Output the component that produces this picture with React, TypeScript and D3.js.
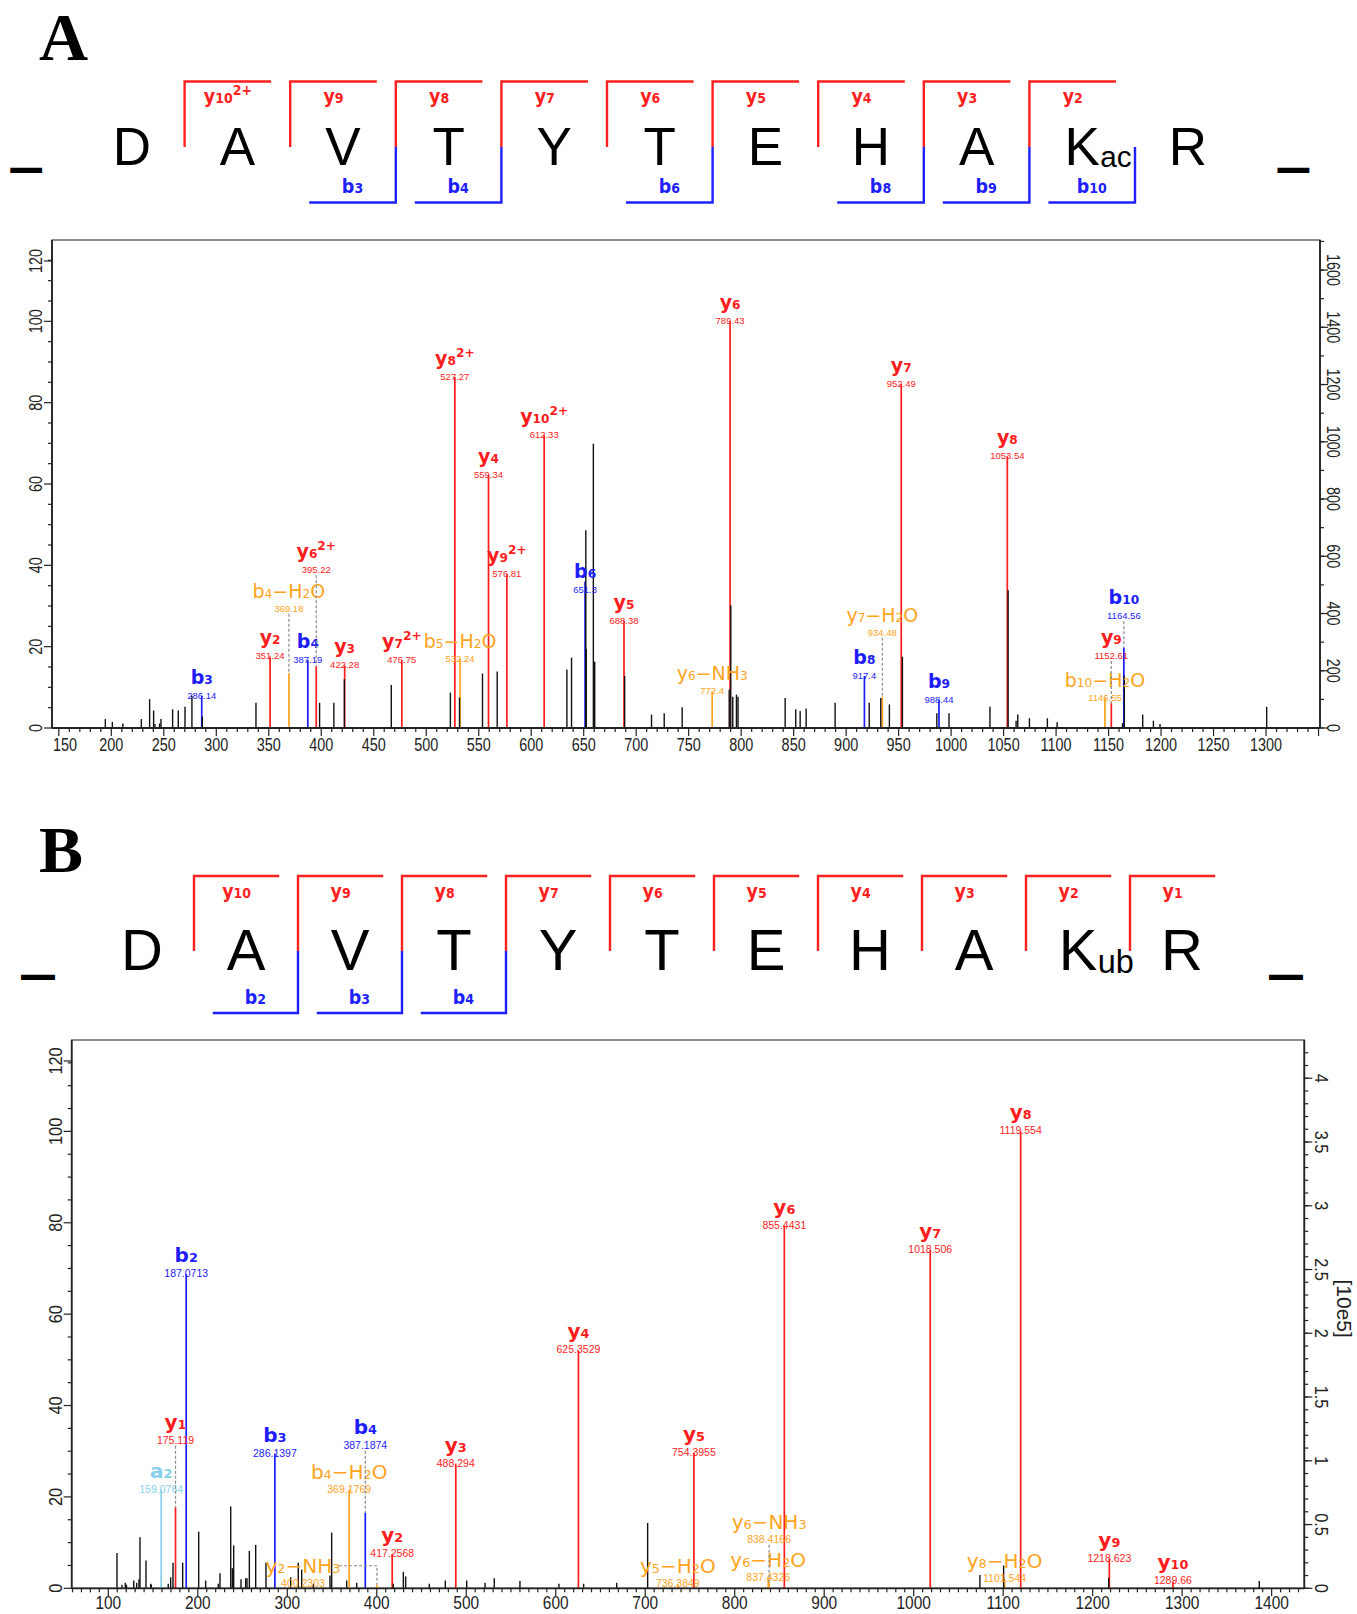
import * as d3 from "d3";
import React from "react";

// ---------------- Panel A : DAVTYTEHAK(ac)R ----------------
const seqA = ["D", "A", "V", "T", "Y", "T", "E", "H", "A", "K", "R"];
const modA = "ac";
const yCutsA = [1, 2, 3, 4, 5, 6, 7, 8, 9];
const yNamesA = ["y{10}^{2+}", "y{9}", "y{8}", "y{7}", "y{6}", "y{5}", "y{4}", "y{3}", "y{2}"];
const bCutsA = [3, 4, 6, 8, 9, 10];
const bNamesA = ["b{3}", "b{4}", "b{6}", "b{8}", "b{9}", "b{10}"];

// annotated fragment peaks (m/z, relative intensity %)
const annMzA = [286.14, 351.24, 369.18, 387.19, 395.22, 422.28, 476.75, 527.27, 532.24, 559.34, 576.81, 612.33, 651.3, 688.38, 772.4, 789.43, 917.4, 934.48, 952.49, 988.44, 1053.54, 1146.55, 1152.61, 1164.56];
const annIntA = [7.9, 17.6, 13.5, 16.7, 15.2, 15.4, 16.7, 86.3, 17.0, 62.2, 37.8, 72.0, 36.0, 26.4, 9.0, 100, 12.8, 7.7, 84.6, 6.9, 66.8, 7.4, 6.1, 19.8];
const annLabA = ["b{3}", "y{2}", "b{4}−H{2}O", "b{4}", "y{6}^{2+}", "y{3}", "y{7}^{2+}", "y{8}^{2+}", "b{5}−H{2}O", "y{4}", "y{9}^{2+}", "y{10}^{2+}", "b{6}", "y{5}", "y{6}−NH{3}", "y{6}", "b{8}", "y{7}−H{2}O", "y{7}", "b{9}", "y{8}", "b{10}−H{2}O", "y{9}", "b{10}"];
const annKindA = ["b", "y", "o", "b", "y", "y", "y", "y", "o", "y", "y", "y", "b", "y", "o", "y", "b", "o", "y", "b", "y", "o", "y", "b"];
const annAtA = [null, null, 29.3, null, 38.8, null, null, null, null, null, null, null, 34, null, null, null, null, 23.4, null, null, null, null, 17.7, 27.5];

// unassigned peaks
const peakMzA = [194.3, 201, 211, 228.6, 236.5, 240.3, 241.5, 246, 247.3, 258.4, 263.8, 270.2, 276.8, 286.7, 337.8, 398.4, 412, 422, 466.7, 523, 531.7, 553.6, 567.6, 634, 638.4, 652, 652.4, 659.2, 660.5, 689, 714.6, 726.7, 743.8, 788.6, 790.1, 792, 795.5, 797, 841.9, 852, 856.2, 861.9, 889.5, 922, 933, 941.2, 953.6, 986.4, 998, 1037, 1054.3, 1061.9, 1063.5, 1074.6, 1091.7, 1101, 1163.3, 1165, 1182.5, 1192.7, 1199, 1300.6];
const peakIntA = [2.2, 1.5, 1.1, 2.2, 7.1, 4.3, 1.0, 1.1, 2.2, 4.6, 4.3, 5.2, 7.9, 2.8, 6.2, 6.2, 6.2, 12, 10.6, 8.7, 7.5, 13.4, 13.9, 14.4, 17.3, 48.6, 19.4, 69.9, 16.3, 12.8, 3.3, 3.6, 5.1, 9.4, 30.2, 7.7, 8.2, 7.7, 7.4, 4.6, 4.2, 4.8, 6.2, 6.2, 7.4, 5.8, 17.5, 3.6, 3.6, 5.2, 33.9, 1.8, 3.3, 2.4, 2.4, 1.4, 1.2, 12.9, 3.3, 1.8, 1.0, 5.2];

const xLabelsA = [150, 200, 250, 300, 350, 400, 450, 500, 550, 600, 650, 700, 750, 800, 850, 900, 950, 1000, 1050, 1100, 1150, 1200, 1250, 1300];
const leftLabels = [0, 20, 40, 60, 80, 100, 120];
const rightLabelsA = [0, 200, 400, 600, 800, 1000, 1200, 1400, 1600];

// ---------------- Panel B : DAVTYTEHAK(ub)R ----------------
const seqB = ["D", "A", "V", "T", "Y", "T", "E", "H", "A", "K", "R"];
const modB = "ub";
const yCutsB = [1, 2, 3, 4, 5, 6, 7, 8, 9, 10];
const yNamesB = ["y{10}", "y{9}", "y{8}", "y{7}", "y{6}", "y{5}", "y{4}", "y{3}", "y{2}", "y{1}"];
const bCutsB = [2, 3, 4];
const bNamesB = ["b{2}", "b{3}", "b{4}"];

const annMzB = [159.0764, 175.119, 187.0713, 286.1397, 369.1769, 387.1874, 400.2303, 417.2568, 488.294, 625.3529, 736.3849, 754.3955, 837.4326, 838.4166, 855.4431, 1018.506, 1101.544, 1119.554, 1218.623, 1289.66];
const annIntB = [21.6, 17.7, 68.8, 29.5, 21.6, 16.5, 0.8, 7.5, 27.3, 52.1, 1.0, 29.7, 2.3, 1.3, 79.4, 74.1, 2.1, 100, 6.5, 1.5];
const annLabB = ["a{2}", "y{1}", "b{2}", "b{3}", "b{4}−H{2}O", "b{4}", "y{2}−NH{3}", "y{2}", "y{3}", "y{4}", "y{5}−H{2}O", "y{5}", "y{6}−H{2}O", "y{6}−NH{3}", "y{6}", "y{7}", "y{8}−H{2}O", "y{8}", "y{9}", "y{10}"];
const annKindB = ["a", "y", "b", "b", "o", "b", "o", "y", "y", "y", "o", "y", "o", "o", "y", "y", "o", "y", "y", "y"];
const annAtB = [null, 32.3, null, null, null, 31.2, 1.0, null, null, null, null, null, null, 10.6, null, null, null, null, null, null];
const annDxB = [0, 0, 0, 0, 0, 0, -74, 0, 0, 0, 0, 0, 0, 0, 0, 0, 0, 0, 0, 0];

const peakMzB = [109.7, 115.3, 119, 120.3, 128.4, 131.7, 134.3, 135.4, 142.1, 147.4, 148, 167, 169.7, 172.3, 183.1, 201, 208.8, 222.9, 224.8, 236.8, 238.6, 240.1, 248.3, 253.5, 255, 257.6, 264.7, 276.2, 303.8, 312.3, 316.1, 329, 347.7, 349.6, 366.4, 377.6, 418.5, 429.7, 432.3, 458.7, 476.6, 500.5, 521, 531.3, 560, 603.6, 631.2, 668.1, 702.7, 1074, 1100.5, 1217.9, 1386.2];
const peakIntB = [7.7, 0.8, 1.2, 0.8, 1.7, 1.2, 2, 11.2, 6.1, 1, 0.8, 1, 2.4, 5.6, 5.6, 12.4, 1.7, 1, 3.3, 17.9, 4.4, 9.4, 2, 2.2, 2.2, 8.2, 9.5, 5.6, 2.4, 5.6, 4.1, 1, 2.8, 12.2, 1.7, 1.2, 1, 3.6, 2.6, 1, 1.7, 1.7, 1.2, 2.2, 1.6, 1, 1, 1.2, 14.3, 2.9, 5, 2.3, 1.6];

const xLabelsB = [100, 200, 300, 400, 500, 600, 700, 800, 900, 1000, 1100, 1200, 1300, 1400];
const rightLabelsB = [0, 0.5, 1, 1.5, 2, 2.5, 3, 3.5, 4];

const COL: Record<string, string> = { y: "#ff1c1c", b: "#1c1cff", o: "#ffa41c", a: "#86cfee" };
const F_AX = "Liberation Sans, Arial, sans-serif";
const F_LAB = "DejaVu Sans, Verdana, sans-serif";

function parse(lab: string) {
  const out: { t: string; k: string }[] = [];
  const re = /\^\{([^}]*)\}|\{([^}]*)\}|([^{^]+)/g;
  let m: RegExpExecArray | null;
  while ((m = re.exec(lab))) {
    if (m[1] !== undefined) out.push({ t: m[1], k: "p" });
    else if (m[2] !== undefined) out.push({ t: m[2], k: "s" });
    else out.push({ t: m[3], k: "n" });
  }
  return out;
}

function Label({ x, y, lab, size, color, weight = "bold", sx = 1, subR = 0.64 }: any) {
  let cur = 0;
  return (
    <text transform={`translate(${x},${y}) scale(${sx},1)`} textAnchor="middle" fill={color}
      fontSize={size} fontWeight={weight} fontFamily={F_LAB}>
      {parse(lab).map((s, i) => {
        const target = s.k === "p" ? -size * 0.42 : 0;
        const dy = target - cur;
        cur = target;
        return <tspan key={i} dy={dy} fontSize={s.k === "n" ? size : size * subR}>{s.t}</tspan>;
      })}
    </text>
  );
}

function Sequence({ seq, mod, x0, step, top, mid, bottom, base, size, dashY, dashSx, yCuts, yNames, bCuts, bNames }: any) {
  const band = d3.scaleBand<number>().domain(d3.range(-1, seq.length + 1))
    .range([x0 - step, x0 + (seq.length + 1) * step]);
  const bw = step * 0.82;
  const cx = (i: number) => (band(i) as number) + step / 2;
  return (
    <g>
      {/* terminal dashes */}
      {[-1, seq.length].map((i) => (
        <text key={"d" + i} transform={`translate(${cx(i)},${dashY + 53 * 0.264}) scale(${dashSx},1)`} textAnchor="middle"
          fontSize={53} fontWeight="bold" fontFamily={F_AX}>—</text>
      ))}
      {seq.map((r: string, i: number) => (
        <text key={i} x={cx(i)} y={base} textAnchor="middle" fontSize={size} fontFamily={F_AX}>{r}</text>
      ))}
      <text x={cx(9) + size * 0.34} y={base + 2.5} fontSize={size * 0.56} fontFamily={F_AX}>{mod}</text>
      {yCuts.map((c: number, i: number) => {
        const bx = band(c) as number;
        return (
          <g key={"y" + i}>
            <path d={`M${bx},${mid}V${top}H${bx + bw}`} fill="none" stroke="#ff2020" strokeWidth={2.4} />
            <Label x={bx + bw / 2} y={top + 21.5} lab={yNames[i]} size={19} color="#ff2020" sx={0.92} subR={0.72} />
          </g>
        );
      })}
      {bCuts.map((c: number, i: number) => {
        const bx = band(c) as number;
        return (
          <g key={"b" + i}>
            <path d={`M${bx},${mid}V${bottom}H${bx - bw}`} fill="none" stroke="#2020ff" strokeWidth={2.4} />
            <Label x={bx - bw / 2} y={bottom - 9.5} lab={bNames[i]} size={19} color="#2020ff" sx={0.92} subR={0.72} />
          </g>
        );
      })}
    </g>
  );
}

function Spectrum(p: any) {
  const { L, R, T, B, sx } = p;
  const x = d3.scaleLinear().domain(p.xDom).range([L, R]);
  const yL = d3.scaleLinear().domain([0, 120]).range([B, T]);
  const yR = d3.scaleLinear().domain([0, p.rightMax]).range([B, T]);
  const xMinor = d3.range(p.xMinorFrom, p.xDom[1], 10);
  const leftMinor = d3.range(0, 120, 5);
  const rightMinor = d3.range(0, p.rightMax, p.rightMinorStep);
  const ly = (v: number) => Math.max(yL(v), T + 21);
  return (
    <g>
      <rect x={L} y={T} width={R - L} height={B - T} fill="#fff" stroke="#444" strokeWidth={1.2} />
      {/* annotated peaks, then unassigned (black) peaks on top */}
      {p.mz.map((m: number, i: number) => (
        <line key={"a" + i} x1={x(m)} x2={x(m)} y1={B} y2={yL(p.it[i])} stroke={COL[p.kind[i]]} strokeWidth={1.7} />
      ))}
      {p.peakMz.map((m: number, i: number) => (
        <line key={"n" + i} x1={x(m)} x2={x(m)} y1={B} y2={yL(p.peakInt[i])} stroke="#111" strokeWidth={1.4} />
      ))}
      {p.mz.map((m: number, i: number) => {
        const px = x(m);
        const top = yL(p.it[i]);
        const at = p.at[i];
        const yy = yL(at ?? p.it[i]);
        const dx = p.dx ? p.dx[i] : 0;
        const lx = px + dx;
        const col = COL[p.kind[i]];
        const orange = p.kind[i] === "o";
        let conn = null;
        if (dx !== 0) conn = `M${lx + 36},${yy - 18}H${px}V${top}`;
        else if (at != null && at > p.it[i] + 1) conn = `M${px},${yy + 5}V${top}`;
        return (
          <g key={"l" + i}>
            {conn && <path d={conn} fill="none" stroke="#8a8a8a" strokeWidth={1.2} strokeDasharray="3,2" />}
            <Label x={lx} y={yy - (orange ? 11 : 12)} lab={p.lab[i]} size={p.ionSize} color={col} weight={orange ? "normal" : "bold"} />
            <text x={lx} y={yy + 3} textAnchor="middle" fontSize={p.mzSize} fill={col} fontFamily={F_AX}>{String(m)}</text>
          </g>
        );
      })}
      {/* x axis */}
      <line x1={L} x2={R} y1={B} y2={B} stroke="#222" strokeWidth={1.8} />
      {xMinor.filter((v: number) => x(v) >= L && x(v) <= R).map((v: number) => (
        <line key={"xm" + v} x1={x(v)} x2={x(v)} y1={B} y2={B + (v % p.xMajor === 0 ? 8 : 4)} stroke="#222" strokeWidth={1.2} />
      ))}
      {p.xLabels.map((v: number) => (
        <text key={"xl" + v} transform={`translate(${Math.max(x(v), L + 13)},${B + p.xLabDy}) scale(${sx},1)`}
          textAnchor="middle" fontSize={p.xLabSize} fontFamily={F_AX} fill="#222">{v}</text>
      ))}
      {/* left axis */}
      <line x1={L} x2={L} y1={T} y2={B} stroke="#222" strokeWidth={1.8} />
      {leftMinor.filter((v: number) => v % 20 !== 0).map((v: number) => (
        <line key={"lm" + v} x1={L - 4} x2={L} y1={yL(v)} y2={yL(v)} stroke="#222" strokeWidth={1.2} />
      ))}
      {leftLabels.map((v: number) => (
        <g key={"ll" + v}>
          <line x1={L - 8} x2={L} y1={ly(v)} y2={ly(v)} stroke="#222" strokeWidth={1.2} />
          <text transform={`translate(${L - 16},${ly(v)}) rotate(-90) scale(${sx},1)`} textAnchor="middle"
            dominantBaseline="central" fontSize={19} fontFamily={F_AX} fill="#222">{v}</text>
        </g>
      ))}
      {/* right axis */}
      <line x1={R} x2={R} y1={T} y2={B} stroke="#222" strokeWidth={1.8} />
      {rightMinor.map((v: number) => (
        <line key={"rm" + v} x1={R} x2={R + 4} y1={yR(v)} y2={yR(v)} stroke="#222" strokeWidth={1.2} />
      ))}
      {p.rightLabels.map((v: number) => (
        <g key={"rl" + v}>
          <line x1={R} x2={R + 8} y1={yR(v)} y2={yR(v)} stroke="#222" strokeWidth={1.2} />
          <text transform={`translate(${R + p.rightLabDx},${yR(v)}) rotate(90) scale(${sx},1)`} textAnchor="middle"
            dominantBaseline="central" fontSize={19} fontFamily={F_AX} fill="#222">{v}</text>
        </g>
      ))}
      {p.unit && (
        <text transform={`translate(${R + 40},${yR(p.rightMax * 0.51)}) rotate(90)`} textAnchor="middle"
          dominantBaseline="central" fontSize={21} fontFamily={F_AX} fill="#222">{p.unit}</text>
      )}
    </g>
  );
}

export default function App() {
  return (
    <svg width={1357} height={1614} style={{ position: "absolute", left: 0, top: 0, background: "#fff" }}>
      <text x={39} y={60} fontSize={68} fontWeight="bold" fontFamily="Liberation Serif, Times New Roman, serif">A</text>
      <text x={39} y={872} fontSize={66} fontWeight="bold" fontFamily="Liberation Serif, Times New Roman, serif">B</text>

      <Sequence seq={seqA} mod={modA} x0={79} step={105.6} top={81.5} mid={147} bottom={202.5} base={164.5} size={53}
        dashY={170.7} dashSx={0.6}
        yCuts={yCutsA} yNames={yNamesA} bCuts={bCutsA} bNames={bNamesA} />
      <Sequence seq={seqB} mod={modB} x0={90} step={104} top={876} mid={951} bottom={1013} base={970} size={58}
        dashY={977.9} dashSx={0.64}
        yCuts={yCutsB} yNames={yNamesB} bCuts={bCutsB} bNames={bNamesB} />

      <Spectrum L={52} R={1320} T={240} B={728} sx={0.76} xDom={[143.5, 1351.4]} xMinorFrom={150} xMajor={50}
        xLabels={xLabelsA} xLabDy={23} xLabSize={19} rightMax={1705} rightMinorStep={100} rightLabels={rightLabelsA} rightLabDx={13}
        peakMz={peakMzA} peakInt={peakIntA} mz={annMzA} it={annIntA} lab={annLabA} kind={annKindA} at={annAtA}
        ionSize={19} mzSize={9.5} />
      <Spectrum L={71.7} R={1304.3} T={1040} B={1588.3} sx={0.86} xDom={[59.1, 1436.5]} xMinorFrom={60} xMajor={100}
        xLabels={xLabelsB} xLabDy={21} xLabSize={18} rightMax={4.3} rightMinorStep={0.1} rightLabels={rightLabelsB} rightLabDx={17}
        peakMz={peakMzB} peakInt={peakIntB} mz={annMzB} it={annIntB} lab={annLabB} kind={annKindB} at={annAtB} dx={annDxB}
        ionSize={20} mzSize={10.5} unit="[10e5]" />
    </svg>
  );
}
